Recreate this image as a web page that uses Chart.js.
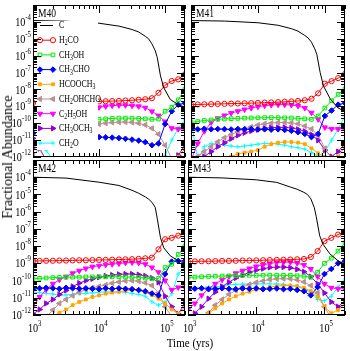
<!DOCTYPE html>
<html><head><meta charset="utf-8">
<script src="https://cdn.jsdelivr.net/npm/chart.js@4.4.1/dist/chart.umd.min.js"></script>
<style>
html,body{margin:0;padding:0;background:#fff;}
body{width:350px;height:351px;position:relative;overflow:hidden;font-family:"Liberation Serif",serif;}
canvas{position:absolute;}
#ytitle{position:absolute;left:8px;top:157px;transform:translate(-50%,-50%) rotate(-90deg);font-size:14px;white-space:nowrap;color:#000;}
#xtitle{position:absolute;left:190px;top:343px;transform:translate(-50%,-50%) scaleX(0.85);font-size:13px;white-space:nowrap;color:#000;}
</style></head>
<body>
<canvas id="cM40" width="190" height="162" style="left:0;top:0"></canvas>
<canvas id="cM41" width="164" height="162" style="left:186px;top:0"></canvas>
<canvas id="cM42" width="190" height="196" style="left:0;top:155px"></canvas>
<canvas id="cM43" width="174" height="196" style="left:176px;top:155px"></canvas>
<div id="ytitle">Fractional Abundance</div>
<div id="xtitle">Time (yrs)</div>
<script>
// ---------- data ----------
const times = [1.0e3,1.26e3,1.58e3,2.0e3,2.51e3,3.16e3,3.98e3,5.01e3,6.31e3,7.94e3,1.0e4,1.26e4,1.58e4,2.0e4,2.51e4,3.16e4,3.98e4,5.01e4,6.31e4,7.94e4,1.0e5,1.26e5,1.58e5,2.0e5];
const cTimes = [1.0e3,3.16e3,1.0e4,2.0e4,3.16e4,3.98e4,5.01e4,5.62e4,6.31e4,7.08e4,7.59e4,8.51e4,9.55e4,1.2e5,1.58e5,2.0e5];
const species = ['C','H2CO','CH3OH','CH3CHO','HCOOCH3','CH2OHCHO','C2H5OH','CH3OCH3','CH2O'];
const panelNames = ['M40','M41','M42','M43'];
const xTickExps = [3,4,5];
const yTickExps = [-4,-5,-6,-7,-8,-9,-10,-11,-12];

// M40
const m40_C = [1.2e-4,1.1e-4,8.32e-5,5.62e-5,3.55e-5,2.51e-5,1.41e-5,1.0e-5,5.01e-6,2.0e-6,7.94e-7,6.31e-8,1.26e-8,2.51e-9,1.26e-9,8.91e-10];
const m40_H2CO = [1.58e-9,1.66e-9,1.70e-9,1.74e-9,1.78e-9,1.82e-9,1.82e-9,1.86e-9,1.91e-9,1.91e-9,1.95e-9,2.0e-9,2.04e-9,2.09e-9,2.19e-9,2.29e-9,2.45e-9,2.63e-9,3.02e-9,6.31e-9,1.78e-8,3.16e-8,3.98e-8,7.94e-8];
const m40_CH3OH = [3.98e-10,2.82e-10,2.24e-10,2.0e-10,1.91e-10,1.82e-10,1.78e-10,1.74e-10,1.70e-10,1.70e-10,1.70e-10,1.82e-10,1.91e-10,2.0e-10,2.0e-10,2.0e-10,1.91e-10,1.82e-10,1.70e-10,1.78e-10,5.13e-10,8.71e-10,2.40e-9,1.05e-8];
const m40_CH3CHO = [2.51e-11,2.24e-11,2.0e-11,1.91e-11,1.78e-11,1.70e-11,1.66e-11,1.58e-11,1.58e-11,1.55e-11,1.51e-11,1.45e-11,1.41e-11,1.32e-11,1.20e-11,1.07e-11,9.33e-12,7.59e-12,5.01e-12,6.31e-12,8.91e-11,5.13e-10,1.26e-9,1.55e-9];
const m40_HCOOCH3 = [1e-13,1e-13,1e-13,1e-13,1e-13,1e-13,1e-13,1e-13,1e-13,1e-13,1e-13,1e-13,1e-13,1e-13,1e-13,1e-13,1e-13,1e-13,1e-13,1e-13,1e-13,3.16e-13,1.0e-12,3.16e-12];
const m40_CH2OHCHO = [1.26e-12,3.16e-12,6.31e-12,1.26e-11,2.0e-11,3.16e-11,4.47e-11,6.03e-11,7.59e-11,8.51e-11,8.91e-11,1.0e-10,1.10e-10,1.15e-10,1.17e-10,1.12e-10,1.0e-10,7.94e-11,5.01e-11,2.24e-11,5.01e-12,7.94e-13,1e-13,1e-13];
const m40_C2H5OH = [3.16e-12,1.58e-11,5.01e-11,1.26e-10,2.51e-10,3.98e-10,5.25e-10,6.61e-10,7.59e-10,8.32e-10,8.71e-10,1.0e-9,1.10e-9,1.15e-9,1.15e-9,1.10e-9,1.0e-9,8.32e-10,5.01e-10,2.82e-10,1.26e-10,5.01e-11,4.47e-11,4.47e-11];
const m40_CH3OCH3 = [1.26e-11,3.16e-12,6.31e-13,1e-13,1e-13,1e-13,1e-13,1e-13,1e-13,1e-13,1e-13,1e-13,1e-13,1e-13,1e-13,1e-13,1e-13,1e-13,1e-13,1e-13,1e-13,5.01e-13,1.26e-12,5.01e-12];
const m40_CH2O = [3.98e-11,1.0e-11,2.51e-12,6.31e-13,1e-13,1e-13,1e-13,1e-13,1e-13,1e-13,1e-13,1e-13,1e-13,1e-13,1e-13,1e-13,1e-13,1e-13,1e-13,5.01e-13,1.26e-12,1.0e-11,5.01e-11,1.58e-10];

// M41
const m41_C = [1.2e-4,1.12e-4,8.91e-5,6.31e-5,3.98e-5,2.82e-5,1.58e-5,1.12e-5,6.31e-6,2.51e-6,1.17e-6,1.0e-7,1.58e-8,2.82e-9,7.94e-10,5.01e-10];
const m41_H2CO = [1.26e-9,1.29e-9,1.32e-9,1.35e-9,1.38e-9,1.41e-9,1.45e-9,1.48e-9,1.51e-9,1.55e-9,1.58e-9,1.66e-9,1.70e-9,1.78e-9,1.86e-9,1.95e-9,2.09e-9,2.29e-9,2.82e-9,5.89e-9,2.19e-8,3.09e-8,4.68e-8,8.32e-8];
const m41_CH3OH = [1.10e-10,1.26e-10,1.45e-10,1.58e-10,1.70e-10,1.78e-10,1.86e-10,1.95e-10,2.0e-10,2.04e-10,2.09e-10,2.14e-10,2.14e-10,2.14e-10,2.09e-10,2.04e-10,1.95e-10,1.82e-10,1.70e-10,2.69e-10,7.94e-10,2.14e-9,5.13e-9,1.05e-8];
const m41_CH3CHO = [4.57e-11,4.37e-11,4.68e-11,4.37e-11,4.57e-11,4.47e-11,4.27e-11,4.57e-11,4.37e-11,4.47e-11,4.27e-11,4.37e-11,4.17e-11,4.37e-11,3.98e-11,3.55e-11,2.95e-11,2.34e-11,1.51e-11,2.34e-11,2.69e-10,5.62e-10,1.26e-9,1.55e-9];
const m41_HCOOCH3 = [1e-13,1e-13,1e-13,1e-13,1e-13,3.16e-13,1.07e-12,1.51e-12,1.82e-12,2.09e-12,2.57e-12,4.07e-12,5.75e-12,7.08e-12,7.76e-12,7.76e-12,7.08e-12,5.75e-12,3.24e-12,1.66e-12,1.0e-12,3.16e-13,1.07e-12,4.07e-12];
const m41_CH2OHCHO = [1e-13,1.07e-12,2.09e-12,4.07e-12,7.94e-12,1.38e-11,2.14e-11,3.24e-11,4.57e-11,6.17e-11,7.76e-11,9.33e-11,1.0e-10,1.10e-10,1.10e-10,1.05e-10,9.33e-11,6.76e-11,4.57e-11,1.91e-11,3.24e-12,8.51e-13,1e-13,1e-13];
const m41_C2H5OH = [6.31e-13,6.31e-12,3.31e-11,1.10e-10,1.95e-10,2.88e-10,3.98e-10,5.13e-10,6.46e-10,7.94e-10,9.55e-10,1.10e-9,1.20e-9,1.26e-9,1.26e-9,1.20e-9,1.05e-9,7.94e-10,4.17e-10,1.70e-10,5.62e-11,4.57e-11,4.57e-11,4.57e-11];
const m41_CH3OCH3 = [1e-13,3.16e-13,1.07e-12,2.09e-12,4.07e-12,6.92e-12,1.20e-11,1.91e-11,2.69e-11,3.47e-11,4.17e-11,5.01e-11,5.50e-11,5.62e-11,5.62e-11,5.25e-11,4.37e-11,3.31e-11,2.14e-11,9.77e-12,2.57e-12,1.07e-12,2.09e-12,6.31e-12];
const m41_CH2O = [1.58e-10,6.31e-13,4.07e-12,6.31e-12,5.75e-12,5.01e-12,4.47e-12,4.07e-12,4.47e-12,5.01e-12,5.75e-12,6.31e-12,6.31e-12,5.75e-12,5.01e-12,4.07e-12,3.55e-12,2.95e-12,1.82e-12,1.07e-12,2.09e-12,9.77e-12,4.57e-11,2.69e-10];

// M42
const m42_C = [1.0e-4,8.91e-5,5.13e-5,3.31e-5,1.74e-5,1.17e-5,7.24e-6,5.37e-6,3.55e-6,1.78e-6,4.17e-7,3.02e-8,7.94e-9,2.69e-9,1.41e-9,1.0e-9];
const m42_H2CO = [1.38e-9,1.38e-9,1.41e-9,1.41e-9,1.45e-9,1.45e-9,1.48e-9,1.51e-9,1.51e-9,1.55e-9,1.58e-9,1.58e-9,1.62e-9,1.66e-9,1.70e-9,1.74e-9,1.82e-9,1.95e-9,2.14e-9,6.46e-9,2.51e-8,3.02e-8,4.07e-8,7.24e-8];
const m42_CH3OH = [1.26e-10,1.35e-10,1.41e-10,1.48e-10,1.51e-10,1.55e-10,1.58e-10,1.58e-10,1.62e-10,1.62e-10,1.66e-10,1.66e-10,1.66e-10,1.66e-10,1.62e-10,1.58e-10,1.51e-10,1.41e-10,1.26e-10,1.32e-10,5.75e-10,8.91e-10,3.31e-9,1.0e-8];
const m42_CH3CHO = [3.16e-11,3.55e-11,3.80e-11,3.55e-11,3.31e-11,3.80e-11,3.55e-11,3.39e-11,3.55e-11,3.31e-11,3.16e-11,3.55e-11,3.31e-11,3.55e-11,3.31e-11,3.16e-11,2.82e-11,2.40e-11,1.78e-11,1.38e-11,2.40e-10,1.26e-9,1.38e-9,1.41e-9];
const m42_HCOOCH3 = [1e-13,1e-13,3.16e-13,7.94e-13,1.35e-12,2.09e-12,3.72e-12,5.75e-12,7.94e-12,1.12e-11,1.38e-11,1.74e-11,2.0e-11,2.24e-11,2.57e-11,2.69e-11,2.69e-11,2.04e-11,1.45e-11,8.91e-12,4.68e-12,2.09e-12,1.15e-12,2.75e-12];
const m42_CH2OHCHO = [1e-13,5.01e-13,7.94e-13,1.95e-12,4.68e-12,7.94e-12,1.32e-11,2.04e-11,2.95e-11,3.80e-11,4.57e-11,5.62e-11,7.08e-11,8.32e-11,9.55e-11,1.0e-10,9.12e-11,7.41e-11,5.13e-11,1.91e-11,3.02e-12,7.94e-13,1e-13,1e-13];
const m42_C2H5OH = [3.02e-12,1.12e-11,2.95e-11,6.46e-11,1.10e-10,1.70e-10,2.63e-10,3.72e-10,5.01e-10,6.31e-10,7.24e-10,8.13e-10,8.91e-10,9.77e-10,1.07e-9,1.12e-9,1.07e-9,8.91e-10,5.75e-10,3.02e-10,1.0e-10,2.82e-11,3.98e-11,3.98e-11];
const m42_CH3OCH3 = [1.15e-12,2.09e-12,4.68e-12,7.94e-12,1.58e-11,2.69e-11,4.57e-11,7.08e-11,1.0e-10,1.26e-10,1.55e-10,1.86e-10,2.09e-10,2.29e-10,2.40e-10,2.40e-10,2.19e-10,1.86e-10,1.41e-10,7.94e-11,1.23e-11,3.02e-12,1.15e-12,4.68e-12];
const m42_CH2O = [2.14e-11,2.0e-11,1.78e-11,1.66e-11,1.38e-11,1.45e-11,1.58e-11,1.74e-11,1.82e-11,1.91e-11,2.14e-11,2.19e-11,2.19e-11,2.19e-11,2.09e-11,1.74e-11,1.58e-11,1.23e-11,5.75e-12,3.72e-12,5.75e-12,1.74e-11,2.40e-10,6.31e-10];

// M43
const m43_C = [1.0e-4,9.12e-5,7.08e-5,5.01e-5,2.69e-5,2.0e-5,1.32e-5,1.0e-5,5.62e-6,1.78e-6,5.01e-7,3.98e-8,1.26e-8,3.55e-9,1.41e-9,8.91e-10];
const m43_H2CO = [1.26e-9,1.29e-9,1.32e-9,1.32e-9,1.35e-9,1.38e-9,1.38e-9,1.41e-9,1.45e-9,1.45e-9,1.48e-9,1.51e-9,1.55e-9,1.58e-9,1.62e-9,1.66e-9,1.70e-9,1.78e-9,2.34e-9,5.13e-9,1.95e-8,3.02e-8,4.68e-8,7.24e-8];
const m43_CH3OH = [1.51e-10,1.58e-10,1.66e-10,1.74e-10,1.78e-10,1.82e-10,1.86e-10,1.91e-10,1.95e-10,2.0e-10,2.0e-10,2.04e-10,2.04e-10,2.04e-10,2.0e-10,2.0e-10,1.91e-10,1.78e-10,1.55e-10,3.02e-10,1.0e-9,2.0e-9,5.13e-9,1.55e-8];
const m43_CH3CHO = [3.16e-11,3.39e-11,3.55e-11,3.16e-11,3.31e-11,3.55e-11,3.31e-11,3.16e-11,3.47e-11,3.31e-11,3.55e-11,3.16e-11,3.31e-11,3.47e-11,3.16e-11,3.31e-11,2.82e-11,2.40e-11,1.38e-11,4.17e-11,2.40e-10,4.68e-10,1.0e-9,1.38e-9];
const m43_HCOOCH3 = [1e-13,1e-13,3.98e-13,1.26e-12,2.40e-12,4.68e-12,7.94e-12,1.23e-11,1.74e-11,2.24e-11,2.95e-11,3.47e-11,4.17e-11,4.79e-11,5.13e-11,5.13e-11,4.79e-11,3.80e-11,2.45e-11,1.12e-11,3.02e-12,1.26e-12,1.95e-12,4.68e-12];
const m43_CH2OHCHO = [1e-13,1e-13,3.16e-13,1.35e-12,3.72e-12,7.94e-12,1.58e-11,2.69e-11,4.17e-11,5.89e-11,7.76e-11,9.55e-11,1.15e-10,1.26e-10,1.29e-10,1.26e-10,1.10e-10,8.32e-11,5.13e-11,1.91e-11,3.02e-12,6.31e-13,1e-13,1e-13];
const m43_C2H5OH = [2.0e-12,4.68e-12,1.38e-11,3.31e-11,6.46e-11,1.10e-10,1.70e-10,2.63e-10,3.72e-10,5.01e-10,6.61e-10,8.13e-10,9.77e-10,1.12e-9,1.17e-9,1.17e-9,1.02e-9,7.94e-10,4.68e-10,1.70e-10,6.46e-11,3.80e-11,3.31e-11,3.31e-11];
const m43_CH3OCH3 = [6.31e-13,1.26e-12,3.02e-12,8.91e-12,2.14e-11,4.57e-11,7.94e-11,1.41e-10,2.09e-10,3.02e-10,4.07e-10,4.90e-10,5.75e-10,6.03e-10,6.03e-10,5.50e-10,4.47e-10,3.24e-10,1.70e-10,6.46e-11,1.91e-11,5.75e-12,3.02e-12,6.61e-12];
const m43_CH2O = [3.31e-11,3.80e-11,3.98e-11,4.17e-11,4.37e-11,4.47e-11,5.89e-11,6.03e-11,6.17e-11,6.31e-11,6.46e-11,6.46e-11,6.46e-11,6.31e-11,6.03e-11,5.13e-11,4.47e-11,3.31e-11,2.14e-11,7.94e-12,6.61e-12,1.23e-11,4.17e-11,1.26e-10];

const panelData = {
  M40: {C:m40_C,H2CO:m40_H2CO,CH3OH:m40_CH3OH,CH3CHO:m40_CH3CHO,HCOOCH3:m40_HCOOCH3,CH2OHCHO:m40_CH2OHCHO,C2H5OH:m40_C2H5OH,CH3OCH3:m40_CH3OCH3,CH2O:m40_CH2O},
  M41: {C:m41_C,H2CO:m41_H2CO,CH3OH:m41_CH3OH,CH3CHO:m41_CH3CHO,HCOOCH3:m41_HCOOCH3,CH2OHCHO:m41_CH2OHCHO,C2H5OH:m41_C2H5OH,CH3OCH3:m41_CH3OCH3,CH2O:m41_CH2O},
  M42: {C:m42_C,H2CO:m42_H2CO,CH3OH:m42_CH3OH,CH3CHO:m42_CH3CHO,HCOOCH3:m42_HCOOCH3,CH2OHCHO:m42_CH2OHCHO,C2H5OH:m42_C2H5OH,CH3OCH3:m42_CH3OCH3,CH2O:m42_CH2O},
  M43: {C:m43_C,H2CO:m43_H2CO,CH3OH:m43_CH3OH,CH3CHO:m43_CH3CHO,HCOOCH3:m43_HCOOCH3,CH2OHCHO:m43_CH2OHCHO,C2H5OH:m43_C2H5OH,CH3OCH3:m43_CH3OCH3,CH2O:m43_CH2O}
};

// ---------- styles ----------
const STYLE = {
  C:        {color:'#000000', pointStyle:false},
  H2CO:     {color:'#ff0000', pointStyle:'circle',   radius:2.6, filled:false, rot:0},
  CH3OH:    {color:'#00ee00', pointStyle:'rect',     radius:2.6, filled:false, rot:0},
  CH3CHO:   {color:'#0000ff', pointStyle:'rectRot',  radius:2.8, filled:true,  rot:0},
  HCOOCH3:  {color:'#ffa500', pointStyle:'rect',     radius:2.0, filled:true,  rot:0},
  CH2OHCHO: {color:'#bc8f8f', pointStyle:'triangle', radius:3.0, filled:true,  rot:-90},
  C2H5OH:   {color:'#ff00ff', pointStyle:'triangle', radius:3.0, filled:true,  rot:180},
  CH3OCH3:  {color:'#9400d3', pointStyle:'triangle', radius:3.0, filled:true,  rot:90},
  CH2O:     {color:'#00ffff', pointStyle:'cross',    radius:2.2, filled:false, rot:0}
};
const FONT = '"Liberation Serif", "Times New Roman", serif';

function drawChem(ctx, txt, x, y, size, sx) {
  ctx.save();
  ctx.translate(x, y);
  ctx.scale(sx, 1);
  ctx.textBaseline = 'middle';
  ctx.textAlign = 'left';
  let cx = 0;
  for (const ch of txt) {
    if (/[0-9]/.test(ch)) {
      ctx.font = Math.round(size * 0.72) + 'px ' + FONT;
      ctx.fillText(ch, cx, 3);
    } else {
      ctx.font = size + 'px ' + FONT;
      ctx.fillText(ch, cx, 0);
    }
    cx += ctx.measureText(ch).width;
  }
  ctx.restore();
}

// "10" with a raised exponent; align 'right' = right edge at x, 'center' = "10" centred on x
function drawPow(ctx, e, x, y, align) {
  const sx = 0.85;
  const es = String(e);
  ctx.save();
  ctx.font = '12px ' + FONT;
  const w10 = ctx.measureText('10').width;
  ctx.font = '8px ' + FONT;
  const we = ctx.measureText(es).width;
  const x0 = align === 'right' ? x - (w10 + we) * sx : x - w10 * sx / 2;
  ctx.translate(x0, y);
  ctx.scale(sx, 1);
  ctx.fillStyle = '#000';
  ctx.textBaseline = 'middle';
  ctx.textAlign = 'left';
  ctx.font = '12px ' + FONT;
  ctx.fillText('10', 0, 0);
  ctx.font = '8px ' + FONT;
  ctx.fillText(es, w10, -5);
  ctx.restore();
}

function buildDatasets(panel) {
  return species.map(sp => {
    const xs = sp === 'C' ? cTimes : times;
    const ys = panel[sp];
    const s = STYLE[sp];
    return {
      label: sp,
      data: xs.map((t, i) => ({x: t, y: ys[i]})),
      borderColor: s.color,
      borderWidth: 1,
      pointStyle: s.pointStyle || false,
      pointRadius: s.pointStyle ? s.radius : 0,
      pointBorderColor: s.color,
      pointBackgroundColor: s.filled ? s.color : 'rgba(255,255,255,0)',
      pointBorderWidth: 1,
      pointRotation: s.rot || 0,
      tension: 0,
      fill: false
    };
  });
}

const legendPlugin = {
  id: 'panelLegend',
  afterDatasetsDraw(chart, args, opts) {
    if (!opts || !opts.show) return;
    const ctx = chart.ctx;
    ctx.save();
    ctx.fillStyle = '#ffffff';
    ctx.fillRect(36, 21, 62, 129);
    species.forEach((sp, i) => {
      const y = 25.5 + i * 14.7;
      const s = STYLE[sp];
      ctx.strokeStyle = s.color;
      ctx.lineWidth = 1;
      ctx.beginPath(); ctx.moveTo(40, y); ctx.lineTo(53, y); ctx.stroke();
      if (s.pointStyle) {
        [40, 53].forEach(px => {
          ctx.fillStyle = s.filled ? s.color : '#ffffff';
          ctx.strokeStyle = s.color;
          if (Chart.helpers && Chart.helpers.drawPoint) {
            Chart.helpers.drawPoint(ctx, {pointStyle: s.pointStyle, radius: s.radius, rotation: s.rot || 0, borderWidth: 1}, px, y);
          }
        });
      }
      ctx.fillStyle = '#000';
      drawChem(ctx, sp, 59, y, 11, 0.72);
    });
    ctx.restore();
  }
};

const framePlugin = {
  id: 'frameTicks',
  afterDatasetsDraw(chart, args, opts) {
    const ctx = chart.ctx, a = chart.chartArea, xs = chart.scales.x, ys = chart.scales.y;
    ctx.save();
    ctx.strokeStyle = '#000';
    ctx.lineWidth = 1;
    ctx.beginPath();
    const ex0 = Math.floor(Math.log10(xs.min)), ex1 = Math.ceil(Math.log10(xs.max));
    for (let e = ex0; e <= ex1; e++) for (let m = 1; m <= 9; m++) {
      const v = m * Math.pow(10, e);
      if (v < xs.min * 0.999 || v > xs.max * 1.001) continue;
      const px = Math.round(xs.getPixelForValue(v)) + 0.5;
      const len = m === 1 ? 8 : 4;
      ctx.moveTo(px, a.bottom); ctx.lineTo(px, a.bottom - len);
      ctx.moveTo(px, a.top); ctx.lineTo(px, a.top + len);
    }
    const ey0 = Math.floor(Math.log10(ys.min) + 1e-9), ey1 = Math.ceil(Math.log10(ys.max) - 1e-9);
    for (let e = ey0; e <= ey1; e++) for (let m = 1; m <= 9; m++) {
      const v = m * Math.pow(10, e);
      if (v < ys.min * 0.999 || v > ys.max * 1.001) continue;
      const py = Math.round(ys.getPixelForValue(v)) + 0.5;
      const len = m === 1 ? 8 : 4;
      ctx.moveTo(a.left, py); ctx.lineTo(a.left + len, py);
      ctx.moveTo(a.right, py); ctx.lineTo(a.right - len, py);
    }
    ctx.stroke();
    ctx.strokeRect(Math.round(a.left) + 0.5, Math.round(a.top) + 0.5, Math.round(a.right - a.left) - 1, Math.round(a.bottom - a.top) - 1);
    // tick labels at the scales' own positions
    if (opts.yLabels) yTickExps.forEach(e => drawPow(ctx, e, a.left - 2, ys.getPixelForValue(Math.pow(10, e)) + 1, 'right'));
    if (opts.xLabels) xTickExps.forEach(e => drawPow(ctx, e, xs.getPixelForValue(Math.pow(10, e)), a.bottom + 14, 'center'));
    // panel name
    ctx.fillStyle = '#000';
    ctx.save();
    ctx.translate(a.left + 5, a.top + 9);
    ctx.scale(0.8, 1);
    ctx.font = '12px ' + FONT;
    ctx.textBaseline = 'middle';
    ctx.fillText(opts.name, 0, 0);
    ctx.restore();
    ctx.restore();
  }
};

function makeChart(name, cfg) {
  const zeroPad = s => { s.paddingLeft = 0; s.paddingRight = 0; s.paddingTop = 0; s.paddingBottom = 0; };
  return new Chart(document.getElementById('c' + name), {
    type: 'line',
    data: {datasets: buildDatasets(panelData[name])},
    options: {
      responsive: false,
      animation: false,
      devicePixelRatio: 1,
      layout: {padding: cfg.padding},
      plugins: {
        legend: {display: false},
        tooltip: {enabled: false},
        panelLegend: {show: !!cfg.legend},
        frameTicks: {name: name, xLabels: cfg.showX, yLabels: !!cfg.showYLabels}
      },
      scales: {
        x: {
          type: 'logarithmic', min: 1e3, max: 2e5,
          display: cfg.showX,
          grid: {display: false}, border: {display: false},
          ticks: {display: false},
          afterFit: s => { zeroPad(s); if (cfg.showX) s.height = cfg.xAxisHeight; }
        },
        y: {
          type: 'logarithmic', min: 1e-12, max: 1e-3,
          display: cfg.yAxisWidth > 0,
          grid: {display: false}, border: {display: false},
          ticks: {display: false},
          afterFit: s => { zeroPad(s); if (cfg.yAxisWidth > 0) s.width = cfg.yAxisWidth; }
        }
      }
    },
    plugins: [legendPlugin, framePlugin]
  });
}

makeChart('M40', {padding: {left: 0, top: 1, right: 2, bottom: 3}, yAxisWidth: 33, showYLabels: true, showX: false, legend: true});
makeChart('M41', {padding: {left: 2, top: 1, right: 2, bottom: 3}, yAxisWidth: 0, showYLabels: false, showX: false});
makeChart('M42', {padding: {left: 0, top: 4, right: 2, bottom: 0}, yAxisWidth: 33, showYLabels: true, showX: true, xAxisHeight: 36});
makeChart('M43', {padding: {left: 0, top: 4, right: 2, bottom: 0}, yAxisWidth: 12, showYLabels: false, showX: true, xAxisHeight: 36});
</script>
</body></html>
